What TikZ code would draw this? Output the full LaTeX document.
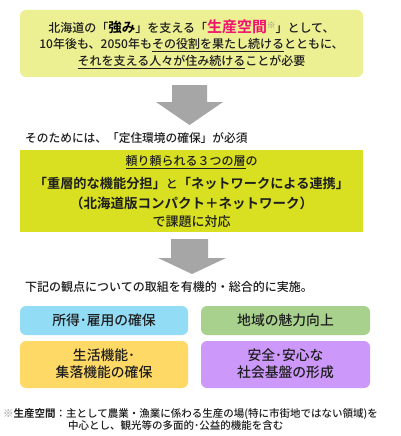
\documentclass[tikz,border=0pt]{standalone}
\usepackage{fontspec}
\setmainfont{Noto Sans CJK JP}[UprightFont=* Medium, BoldFont=* Bold]
\definecolor{txtc}{RGB}{30,30,30}
\definecolor{topc}{RGB}{236,239,146}
\definecolor{midc}{RGB}{216,224,33}
\definecolor{arrc}{RGB}{166,166,166}
\definecolor{cyanc}{RGB}{146,220,245}
\definecolor{greenc}{RGB}{169,209,142}
\definecolor{orangec}{RGB}{255,217,102}
\definecolor{purplec}{RGB}{204,153,250}
\definecolor{pinkc}{RGB}{240,20,110}
\definecolor{notec}{RGB}{140,140,140}
\newcommand\setfs[1]{\fontsize{#1}{#1}\selectfont}
\begin{document}
\begin{tikzpicture}[x=1pt,y=-1pt,
  txt/.style={inner sep=0pt, text=txtc},
  boxlabel/.style={inner sep=0pt, text=txtc, align=center, font=\setfs{13.8}},
  panel/.style={draw=none, inner sep=0pt, rounded corners=6pt},
  blockarrow/.style={fill=arrc, draw=none}]
\useasboundingbox (0,0) rectangle (400,436);
\fill[white] (0,0) rectangle (400,436);

% top box
\node[panel, fill=topc, minimum width=343pt, minimum height=67pt] (top) at (191.5,43.5) {};
\node[txt] (t1) at (191.5,27) {\setfs{12}北海道の「{\setfs{13.5}\bfseries\color{black}強み}」を支える「{\setfs{15}\bfseries\color{pinkc}生産空間}{\setfs{8.5}\color{notec}\raisebox{4pt}{※}}」として、};
\node[txt] (t2) at (191.5,45) {\setfs{12}10年後も、2050年も\underline{その役割を果たし続ける}とともに、};
\node[txt] (t3) at (191.5,62) {\setfs{12}\underline{それを支える人々が住み続ける}ことが必要};

% arrow 1
\fill[blockarrow] (172,85) -- (207,85) -- (207,102) -- (223,102) -- (189.5,125) -- (156,102) -- (172,102) -- cycle;

\node[txt, anchor=west] (need) at (25,138) {\setfs{11.7}そのためには、「定住環境の確保」が必須};

% middle box
\node[draw=none, inner sep=0pt, fill=midc, minimum width=343pt, minimum height=82pt] (mid) at (191.5,191) {};
\node[txt] (m1) at (191.5,162) {\setfs{12}\underline{頼り頼られる３つの層}の};
\node[txt] (m2) at (191.5,183) {\setfs{13.2}{\bfseries 「重層的な機能分担」}{\setfs{12}と}{\bfseries 「ネットワークによる連携」}};
\node[txt] (m3) at (191.5,203) {\setfs{13.5}\bfseries （北海道版コンパクト＋ネットワーク）};
\node[txt] (m4) at (191.5,222) {\setfs{13}で課題に対応};

% arrow 2
\fill[blockarrow] (171,239) -- (208,239) -- (208,258) -- (226,258) -- (192,274) -- (158,258) -- (171,258) -- cycle;

\node[txt, anchor=west] (impl) at (25,287) {\setfs{12}下記の観点についての取組を有機的・総合的に実施。};

% four boxes
\node[panel, fill=cyanc, minimum width=168pt, minimum height=29pt] (b1) at (104,320.5) {};
\node[boxlabel] at (b1.center) {所得･雇用の確保};
\node[panel, fill=greenc, minimum width=169pt, minimum height=29pt] (b2) at (285.5,320.5) {};
\node[boxlabel] at (b2.center) {地域の魅力向上};
\node[panel, fill=orangec, minimum width=168pt, minimum height=47pt] (b3) at (104,364.5) {};
\node[boxlabel] at (104,355) {生活機能･};
\node[boxlabel] at (104,372) {集落機能の確保};
\node[panel, fill=purplec, minimum width=169pt, minimum height=47pt] (b4) at (285.5,364.5) {};
\node[boxlabel] at (285.5,355) {安全･安心な};
\node[boxlabel] at (285.5,372) {社会基盤の形成};

% footnote
\node[txt, anchor=west] (f1) at (3,414) {\setfs{10.5}{\color{notec}※}{\bfseries 生産空間}：主として農業・漁業に係わる生産の場(特に市街地ではない領域)を};
\node[txt, anchor=west] (f2) at (68,425) {\setfs{10.5}中心とし、観光等の多面的･公益的機能を含む};
\end{tikzpicture}
\end{document}
